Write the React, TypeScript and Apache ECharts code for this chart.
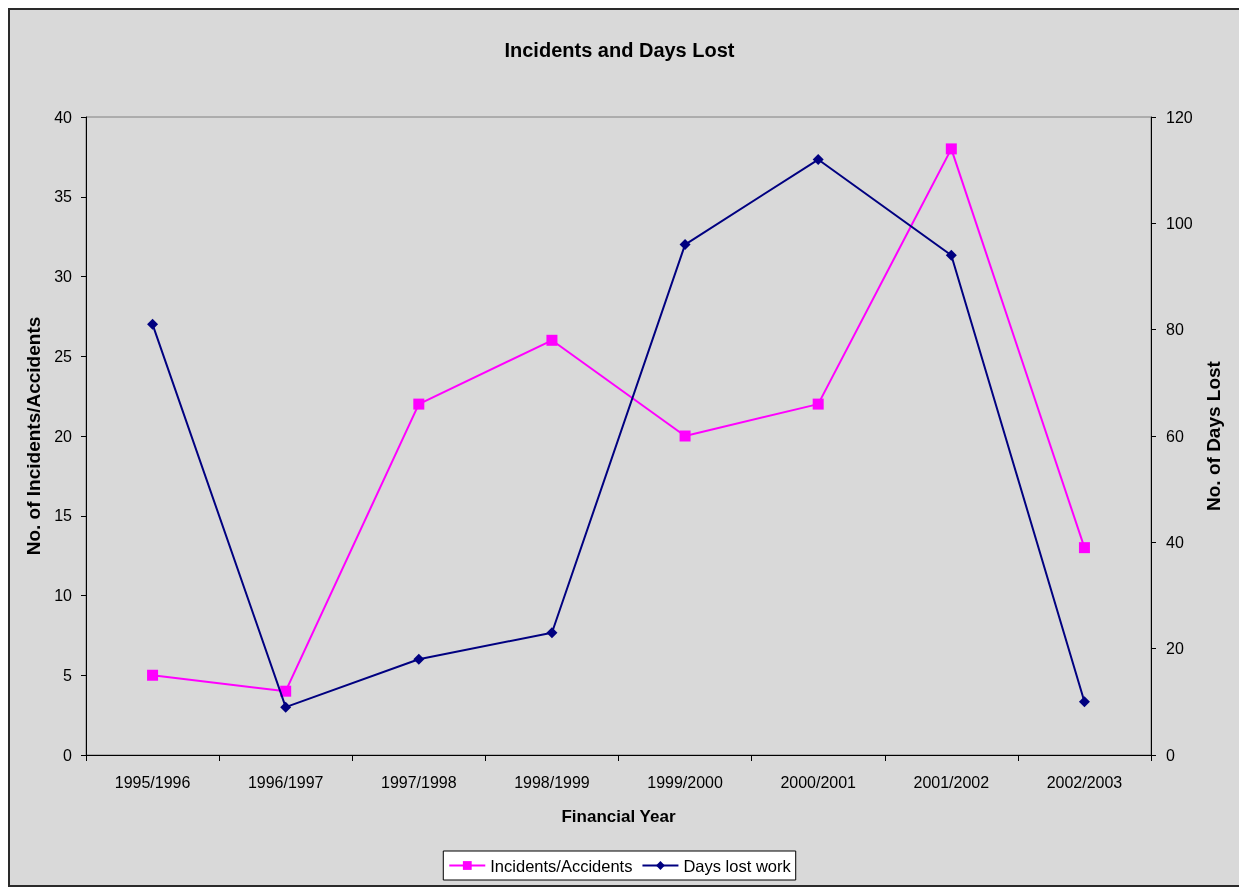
import React, { useEffect, useRef } from "react";
import * as echarts from "echarts";

const categories = ["1995/1996", "1996/1997", "1997/1998", "1998/1999", "1999/2000", "2000/2001", "2001/2002", "2002/2003"];
const incidents = [5, 4, 22, 26, 20, 22, 38, 13];
const daysLost = [81, 9, 18, 23, 96, 112, 94, 10];
const FONT = "Liberation Sans, Arial, sans-serif";

export default function App() {
  const ref = useRef<HTMLDivElement>(null);
  useEffect(() => {
    const chart = echarts.init(ref.current!, null, { renderer: "svg" });
    const lbl = { color: "#000", fontFamily: FONT, fontSize: 16 };
    const vName = { color: "#000", fontFamily: FONT, fontSize: 19, fontWeight: "bold" as const };
    chart.setOption({
      animation: false,
      backgroundColor: "transparent",
      graphic: [
        {
          type: "rect",
          z: -10,
          silent: true,
          shape: { x: 9, y: 9, width: 1240, height: 877 },
          style: { fill: "#d9d9d9", stroke: "#2a2a2a", lineWidth: 2 },
        },
      ],
      title: {
        text: "Incidents and Days Lost",
        left: "center",
        top: 35,
        textStyle: { color: "#000", fontFamily: FONT, fontSize: 20, fontWeight: "bold" },
      },
      legend: {
        left: "center",
        top: 851,
        backgroundColor: "#fff",
        borderColor: "#000",
        borderWidth: 1,
        borderRadius: 0,
        padding: [6, 5],
        itemWidth: 36,
        itemHeight: 11,
        itemGap: 9,
        textStyle: { ...lbl, fontSize: 16.5 },
        data: ["Incidents/Accidents", "Days lost work"],
      },
      grid: {
        left: 86,
        right: 88,
        top: 117,
        bottom: 133,
        show: true,
        borderColor: "#808080",
        borderWidth: 1,
        backgroundColor: "transparent",
      },
      xAxis: {
        type: "category",
        data: categories,
        boundaryGap: true,
        name: "Financial Year",
        nameLocation: "middle",
        nameGap: 53,
        nameTextStyle: { color: "#000", fontFamily: FONT, fontSize: 17, fontWeight: "bold" },
        axisLine: { lineStyle: { color: "#000", width: 1 } },
        axisTick: { show: true, length: 6, alignWithLabel: false, lineStyle: { color: "#000" } },
        axisLabel: { ...lbl, margin: 19, interval: 0 },
        splitLine: { show: false },
      },
      yAxis: [
        {
          type: "value",
          min: 0,
          max: 40,
          interval: 5,
          position: "left",
          name: "No. of Incidents/Accidents",
          nameLocation: "middle",
          nameRotate: 90,
          nameGap: 39,
          nameTextStyle: vName,
          axisLine: { show: true, lineStyle: { color: "#000" } },
          axisTick: { show: true, length: 5, lineStyle: { color: "#000" } },
          axisLabel: { ...lbl, margin: 14 },
          splitLine: { show: false },
        },
        {
          type: "value",
          min: 0,
          max: 120,
          interval: 20,
          position: "right",
          name: "No. of Days Lost",
          nameLocation: "middle",
          nameRotate: 90,
          nameGap: 50,
          nameTextStyle: vName,
          axisLine: { show: true, lineStyle: { color: "#000" } },
          axisTick: { show: true, length: 5, lineStyle: { color: "#000" } },
          axisLabel: { ...lbl, margin: 15 },
          splitLine: { show: false },
        },
      ],
      series: [
        {
          name: "Incidents/Accidents",
          type: "line",
          yAxisIndex: 0,
          data: incidents,
          symbol: "rect",
          symbolSize: 11,
          itemStyle: { color: "#ff00ff" },
          lineStyle: { color: "#ff00ff", width: 2 },
          z: 3,
        },
        {
          name: "Days lost work",
          type: "line",
          yAxisIndex: 1,
          data: daysLost,
          symbol: "diamond",
          symbolSize: 11,
          itemStyle: { color: "#000080" },
          lineStyle: { color: "#000080", width: 2 },
          z: 4,
        },
      ],
    });
    return () => chart.dispose();
  }, []);
  return <div ref={ref} style={{ position: "fixed", left: 0, top: 0, width: 1239, height: 888 }} />;
}
